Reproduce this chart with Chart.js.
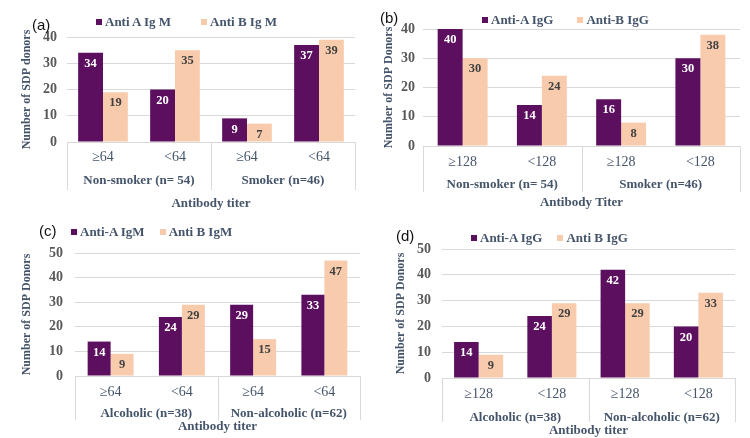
<!DOCTYPE html>
<html>
<head>
<meta charset="utf-8">
<script src="https://cdn.jsdelivr.net/npm/chart.js@4.4.1/dist/chart.umd.min.js"></script>
<style>
  html, body { margin: 0; padding: 0; background: #fff; }
  #wrap { position: relative; width: 750px; height: 438px; overflow: hidden; }
  #wrap canvas { position: absolute; }
  .tag { position: absolute; font: 15px 'Liberation Sans', Arial, sans-serif; color: #111; line-height: 16px; }
  .legend { position: absolute; display: flex; align-items: center; height: 16px;
            font: bold 13px 'Liberation Serif', 'Times New Roman', serif; color: #44546A; white-space: nowrap; }
  .legend .item { display: flex; align-items: center; }
  .legend .box { display: inline-block; width: 6px; height: 6px; margin-right: 3px; }
</style>
</head>
<body>
<div id="wrap">
  <canvas id="chartA" width="375" height="219" style="left:0;top:0"></canvas>
  <canvas id="chartB" width="375" height="219" style="left:375px;top:0"></canvas>
  <canvas id="chartC" width="375" height="219" style="left:0;top:219px"></canvas>
  <canvas id="chartD" width="375" height="219" style="left:375px;top:219px"></canvas>
  <div class="tag" style="left:32px;top:17px">(a)</div>
  <div class="tag" style="left:380px;top:10px">(b)</div>
  <div class="tag" style="left:39px;top:223px">(c)</div>
  <div class="tag" style="left:396px;top:228px">(d)</div>
  <div class="legend" id="legendA" style="left:96px;top:14px;gap:30px"></div>
  <div class="legend" id="legendB" style="left:482px;top:12px;gap:24px"></div>
  <div class="legend" id="legendC" style="left:71px;top:224px;gap:15px"></div>
  <div class="legend" id="legendD" style="left:471px;top:230px;gap:15px"></div>
</div>
<script>
// data
const titersIgM = ['≥64', '<64', '≥64', '<64'];
const titersIgG = ['≥128', '<128', '≥128', '<128'];
const smokingGroups = ['Non-smoker (n= 54)', 'Smoker (n=46)'];
const alcoholGroups = ['Alcoholic (n=38)', 'Non-alcoholic (n=62)'];

const smokeAntiAIgM = [34, 20, 9, 37];
const smokeAntiBIgM = [19, 35, 7, 39];
const smokeAntiAIgG = [40, 14, 16, 30];
const smokeAntiBIgG = [30, 24, 8, 38];
const alcoAntiAIgM = [14, 24, 29, 33];
const alcoAntiBIgM = [9, 29, 15, 47];
const alcoAntiAIgG = [14, 24, 42, 20];
const alcoAntiBIgG = [9, 29, 29, 33];

const yMaxSmoke = 40;
const yMaxAlco = 50;
const yStep = 10;

const PURPLE = '#5C0F5E';
const PEACH = '#F8CBAD';
const GRID = '#D9D9D9';
const TEXT = '#44546A';
const TICK = '#595959';
const SERIF = "'Liberation Serif', 'Times New Roman', serif";

// value labels inside the top of each bar
const barValueLabels = {
    id: 'barValueLabels',
    afterDatasetsDraw(chart) {
        const ctx = chart.ctx;
        ctx.save();
        ctx.font = 'bold 12.5px ' + SERIF;
        ctx.textAlign = 'center';
        ctx.textBaseline = 'middle';
        chart.data.datasets.forEach((ds, i) => {
            ctx.fillStyle = ds.labelColor;
            chart.getDatasetMeta(i).data.forEach((bar, j) => {
                ctx.fillText(ds.data[j], bar.x, bar.y + 11);
            });
        });
        ctx.restore();
    }
};

// vertical lines of the two-level category axis
const groupDividers = {
    id: 'groupDividers',
    afterDraw(chart, args, opts) {
        const x = chart.scales.x;
        const {ctx, chartArea} = chart;
        const mid = (x.getPixelForValue(1) + x.getPixelForValue(2)) / 2;
        ctx.save();
        ctx.strokeStyle = GRID;
        ctx.lineWidth = 1;
        [chartArea.left, mid, chartArea.right].forEach(px => {
            const xx = Math.round(px) + 0.5;
            ctx.beginPath();
            ctx.moveTo(xx, chartArea.bottom);
            ctx.lineTo(xx, chartArea.bottom + opts.depth);
            ctx.stroke();
        });
        ctx.restore();
    }
};

function buildLegend(el, chart) {
    const items = chart.options.plugins.legend.labels.generateLabels(chart);
    items.forEach(item => {
        const div = document.createElement('div');
        div.className = 'item';
        const box = document.createElement('span');
        box.className = 'box';
        box.style.background = item.fillStyle;
        div.appendChild(box);
        div.appendChild(document.createTextNode(item.text));
        el.appendChild(div);
    });
}

function panel(id, legendId, p) {
    const chart = new Chart(document.getElementById(id), {
        type: 'bar',
        data: {
            labels: p.categories,
            datasets: [
                {label: p.names[0], data: p.a, backgroundColor: PURPLE, labelColor: '#FFFFFF',
                 categoryPercentage: p.catPct, barPercentage: 1},
                {label: p.names[1], data: p.b, backgroundColor: PEACH, labelColor: '#404040',
                 categoryPercentage: p.catPct, barPercentage: 1}
            ]
        },
        options: {
            responsive: false,
            animation: false,
            devicePixelRatio: 1,
            layout: {padding: p.pad},
            plugins: {
                legend: {display: false},
                tooltip: {enabled: false},
                groupDividers: {depth: p.depth}
            },
            scales: {
                y: {
                    min: 0,
                    max: p.yMax,
                    ticks: {stepSize: yStep, padding: p.yTickPad, color: TICK,
                            font: {family: SERIF, size: 14, weight: 'bold'}},
                    grid: {color: GRID, drawTicks: false},
                    border: {display: false},
                    title: {display: true, text: p.yTitle, color: TEXT,
                            padding: {top: p.yTitlePad, bottom: 0},
                            font: {family: SERIF, size: 12, weight: 'bold'}},
                    afterFit: s => { s.width = p.yWidth; }
                },
                x: {
                    weight: 0,
                    ticks: {padding: p.xPad, color: TEXT, font: {family: SERIF, size: 14}},
                    grid: {display: false, drawTicks: false},
                    border: {display: true, color: GRID},
                    afterFit: s => { s.height = p.xH; }
                },
                x2: {
                    type: 'category',
                    position: 'bottom',
                    weight: 1,
                    labels: p.groups,
                    offset: true,
                    ticks: {padding: p.x2Pad, color: TEXT, font: {family: SERIF, size: 13, weight: 'bold'}},
                    grid: {display: false, drawTicks: false},
                    border: {display: false},
                    title: {display: true, text: p.xTitle, color: TEXT,
                            padding: {top: 0, bottom: p.xTitlePad},
                            font: {family: SERIF, size: 13, weight: 'bold'}},
                    afterFit: s => { s.height = p.x2H; }
                }
            }
        },
        plugins: [barValueLabels, groupDividers]
    });
    buildLegend(document.getElementById(legendId), chart);
}

panel('chartA', 'legendA', {
    categories: titersIgM, groups: smokingGroups, a: smokeAntiAIgM, b: smokeAntiBIgM,
    names: ['Anti A Ig M', 'Anti B Ig M'], yTitle: 'Number of SDP donors', xTitle: 'Antibody titer',
    yMax: yMaxSmoke, catPct: 0.69, depth: 48,
    pad: {top: 37, left: 14, right: 20, bottom: 4},
    yWidth: 53, yTitlePad: 6, yTickPad: 10, xH: 24, xPad: 7, x2H: 49, x2Pad: 7, xTitlePad: 4
});

panel('chartB', 'legendB', {
    categories: titersIgG, groups: smokingGroups, a: smokeAntiAIgG, b: smokeAntiBIgG,
    names: ['Anti-A IgG', 'Anti-B IgG'], yTitle: 'Number of SDP Donors', xTitle: 'Antibody Titer',
    yMax: yMaxSmoke, catPct: 0.63, depth: 46,
    pad: {top: 29, left: 2, right: 10, bottom: 9},
    yWidth: 46, yTitlePad: 5, yTickPad: 8, xH: 24, xPad: 8, x2H: 40, x2Pad: 7, xTitlePad: 0
});

panel('chartC', 'legendC', {
    categories: titersIgM, groups: alcoholGroups, a: alcoAntiAIgM, b: alcoAntiBIgM,
    names: ['Anti-A IgM', 'Anti B IgM'], yTitle: 'Number of SDP Donors', xTitle: 'Antibody titer',
    yMax: yMaxAlco, catPct: 0.645, depth: 44,
    pad: {top: 34, left: 12, right: 15, bottom: 4},
    yWidth: 63, yTitlePad: 8, yTickPad: 12, xH: 24, xPad: 8, x2H: 34, x2Pad: 6, xTitlePad: 0
});

panel('chartD', 'legendD', {
    categories: titersIgG, groups: alcoholGroups, a: alcoAntiAIgG, b: alcoAntiBIgG,
    names: ['Anti-A IgG', 'Anti B IgG'], yTitle: 'Number of SDP Donors', xTitle: 'Antibody titer',
    yMax: yMaxAlco, catPct: 0.67, depth: 44,
    pad: {top: 30, left: 12, right: 15, bottom: 0},
    yWidth: 55, yTitlePad: 7, yTickPad: 11, xH: 24, xPad: 8, x2H: 36, x2Pad: 8, xTitlePad: 0
});
</script>
</body>
</html>
